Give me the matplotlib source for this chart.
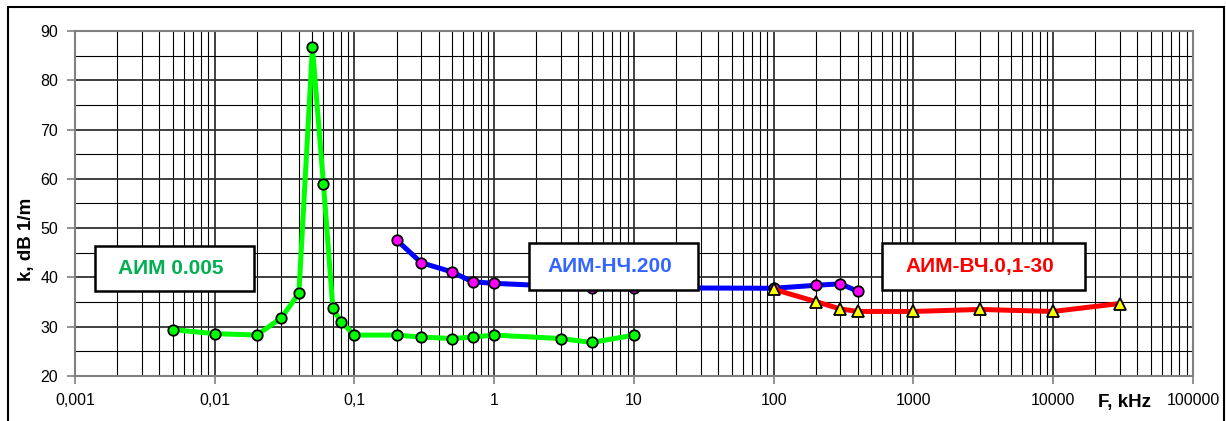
import numpy as np
import matplotlib
matplotlib.use("Agg")
import matplotlib.pyplot as plt
from matplotlib.patches import Rectangle
from matplotlib.ticker import FixedLocator, LogLocator, NullFormatter

plt.rcParams['font.family'] = ['Liberation Sans', 'DejaVu Sans']

# --- data ---
f_005 = [0.005, 0.01, 0.02, 0.03, 0.04, 0.05, 0.06, 0.07, 0.08, 0.1,
         0.2, 0.3, 0.5, 0.7, 1, 3, 5, 10]
k_005 = [29.4, 28.6, 28.3, 31.8, 36.8, 86.7, 58.9, 33.7, 31.0, 28.3,
         28.3, 27.9, 27.6, 27.9, 28.3, 27.6, 26.8, 28.3]

f_nch = [0.2, 0.3, 0.5, 0.7, 1, 5, 10, 100, 200, 300, 400]
k_nch = [47.6, 43.0, 41.1, 39.1, 38.8, 37.9, 37.9, 37.8, 38.4, 38.7, 37.2]

f_vch = [100, 200, 300, 400, 1000, 3000, 10000, 30000]
k_vch = [37.6, 35.1, 33.6, 33.1, 33.1, 33.5, 33.1, 34.7]

xticks = [0.001, 0.01, 0.1, 1, 10, 100, 1000, 10000, 100000]
xlabels = ['0,001', '0,01', '0,1', '1', '10', '100', '1000', '10000', '100000']
yticks = [20, 30, 40, 50, 60, 70, 80, 90]

fig = plt.figure(figsize=(12.26, 4.21), dpi=100)
ax = fig.add_axes([0.0612, 0.1069, 0.9118, 0.8195])

ax.set_xscale('log')
ax.set_xlim(0.001, 100000)
ax.set_ylim(20, 90)

ax.plot(f_005, k_005, color='#00FF00', lw=3.6, marker='o', ms=7.5,
        mfc='#00FF00', mec='black', mew=1.3, zorder=3, solid_joinstyle='round')
ax.plot(f_nch, k_nch, color='#0000FF', lw=3.6, marker='o', ms=7.5,
        mfc='#FF00FF', mec='black', mew=1.3, zorder=3.1, solid_joinstyle='round')
ax.plot(f_vch, k_vch, color='#FF0000', lw=3.6, marker='^', ms=9,
        mfc='#FFFF00', mec='black', mew=1.3, zorder=3.2, solid_joinstyle='round')

# grid
ax.xaxis.set_major_locator(FixedLocator(xticks))
ax.set_xticklabels(xlabels)
ax.xaxis.set_minor_locator(LogLocator(base=10, subs=np.arange(2, 10)))
ax.xaxis.set_minor_formatter(NullFormatter())
ax.yaxis.set_major_locator(FixedLocator(yticks))
ax.yaxis.set_minor_locator(FixedLocator([25, 35, 45, 55, 65, 75, 85]))
ax.grid(which='major', color='#303030', lw=1.3, zorder=1)
ax.grid(which='minor', color='black', lw=0.8, zorder=1)
ax.set_axisbelow(True)

ax.tick_params(which='major', length=6, width=1.2, color='#808080',
               labelsize=11.5, pad=6)
ax.tick_params(which='minor', length=0)
for s in ax.spines.values():
    s.set_color('#808080')
    s.set_linewidth(1.5)

ax.text(-0.043, 0.397, 'k, dB 1/m', transform=ax.transAxes, rotation=90,
        fontsize=13.5, fontweight='bold', ha='center', va='center')
ax.text(0.939, -0.078, 'F, kHz', transform=ax.transAxes,
        fontsize=13.5, fontweight='bold', ha='center', va='center')

# labelled boxes
boxes = [
    (0.089, 0.3116, 0.1422, 0.1304, 'АИМ 0.005', '#00B050'),
    (0.4817, 0.3174, 0.1512, 0.136, 'АИМ-НЧ.200', '#3366FF'),
    (0.8126, 0.3174, 0.1816, 0.136, 'АИМ-ВЧ.0,1-30', '#FF0000'),
]
for cx, cy, w, h, txt, col in boxes:
    ax.add_patch(Rectangle((cx - w / 2, cy - h / 2), w, h, transform=ax.transAxes,
                           facecolor='white', edgecolor='black', lw=1.8, zorder=5))
    ax.text(cx - 0.003, cy, txt, transform=ax.transAxes, color=col,
            fontsize=15, fontweight='bold', ha='center', va='center', zorder=6)

# outer frame
fig.patches.append(Rectangle((8 / 1226, -0.01), 1216 / 1226, (421 - 7) / 421 + 0.01,
                             transform=fig.transFigure, fill=False,
                             edgecolor='black', lw=1.5))

fig.savefig('out.png', dpi=100)
